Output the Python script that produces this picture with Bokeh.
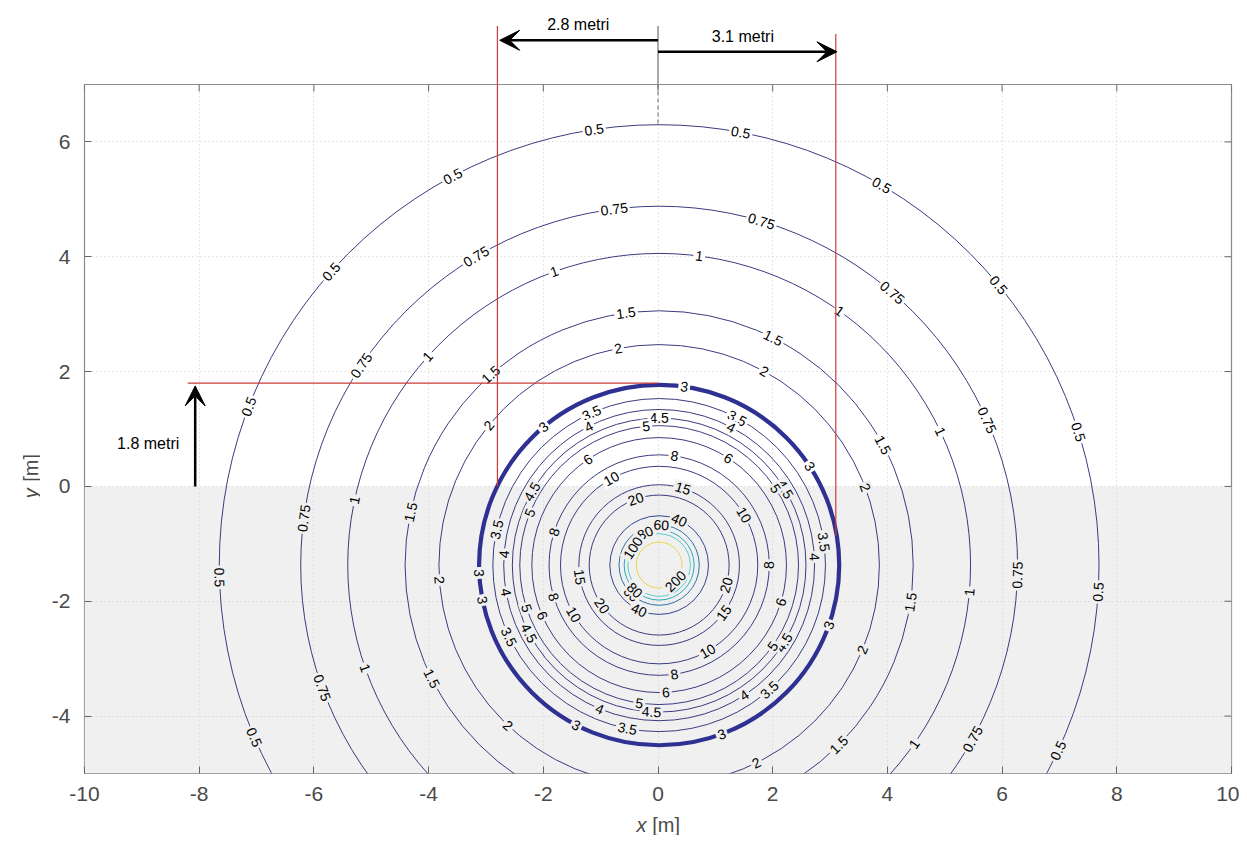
import math
from bokeh.plotting import figure
from bokeh.models import ColumnDataSource, Label, Arrow, VeeHead, BoxAnnotation, FixedTicker, Range1d
from bokeh.layouts import column, row
from bokeh.core.properties import value
from bokeh.embed import file_html
from bokeh.resources import INLINE

# ---------------- data ----------------
levels = [0.5, 0.75, 1, 1.5, 2, 3, 3.5, 4, 4.5, 5, 6, 8, 10, 15, 20, 40, 60, 80, 100, 200]
level_text = ["0.5", "0.75", "1", "1.5", "2", "3", "3.5", "4", "4.5", "5", "6", "8",
              "10", "15", "20", "40", "60", "80", "100", "200"]
radii = [7.67, 6.25, 5.43, 4.43, 3.84, 3.14, 2.90, 2.71, 2.56, 2.43, 2.22, 1.92,
         1.72, 1.40, 1.22, 0.86, 0.70, 0.61, 0.545, 0.40]
center_x = [0.02] * 20
center_y = [-1.37] * 20

xticks = [-10, -8, -6, -4, -2, 0, 2, 4, 6, 8, 10]
yticks = [-4, -2, 0, 2, 4, 6]

left_dist = 2.8     # metri
right_dist = 3.1    # metri
height_dist = 1.8   # metri

# ---------------- styles / label placement ----------------
colors = ["#3a3b80"] * 15 + ["#35448f", "#2f72a8", "#2aa7bd", "#5ccaca", "#e8d64e"]
widths = [1.0] * 20
widths[5] = 4.2
colors[5] = "#2e3192"

label_angles = [
    [98.5, 79.3, 118, 59.6, 138.2, 39.5, 158.9, 17.6, 181.6, -3.5, 203, -24.9],
    [97.2, 73.4, 120.7, 49.4, 146.2, 23.8, 172.5, -1.6, 200, -29],
    [82.6, 109.7, 54.6, 138, 25.4, 168, -5, 199.3, -35],
    [97.5, 63.3, 131.5, 28.2, 168, -8.4, 206.5, -45],
    [100.7, 61.5, 140.7, 20.6, 183.9, -22.6, 226.7, -63.8],
    [82, 130, 33.2, 182.5, 191.2, -19.5, 242.6, -69.7],
    [114, 62, 167.7, 8, 205.5, 259, -48.5],
    [117, 62.3, 176, 3, 190, 247.5, -56.8],
    [90, 150, 31, 207.6, 267, -31.8],
    [95.3, 158, 33.3, 198, 261.8, -35.5],
    [124, 57, 203.4, -87, -16.9],
    [82, 162.5, 0, 196.8, -82],
    [119, 30.5, 210, -60.6],
    [72.7, 188.5, -36.4],
    [109.5, 215.5, -16.6],
    [66, 246],
    [87, 226],
    [113.6, 226],
    [147],
    [-45],
]

GROUND = "#f0f0f0"
FONT = "Liberation Sans"
RED = "#cc3a3a"
TICK = "#666666"
AXC = "#4a4a4a"

W = 1239
BL, BR = 84, 8
LW = 40                 # left strip (y title)
TOP_H = 84              # strip above the axes
FRAME_H = 689
BB = 40
MAIN_H = FRAME_H + BB
BOT_H = 835 - TOP_H - MAIN_H
PX_PER_Y = FRAME_H / 12.0
PX_PER_X = (W - BL - BR) / 20.0


def strip(**kw):
    f = figure(title=None, output_backend="svg", toolbar_location=None,
               x_axis_type=None, y_axis_type=None, **kw)
    f.outline_line_color = None
    f.xgrid.visible = False
    f.ygrid.visible = False
    f.background_fill_color = "white"
    f.border_fill_color = "white"
    return f


# ---------------- main figure ----------------
p = figure(width=W - LW, height=MAIN_H, x_range=(-10, 10), y_range=(-5, 7), title=None,
           output_backend="svg", toolbar_location=None,
           min_border_left=BL - LW, min_border_right=BR, min_border_top=0, min_border_bottom=BB)
p.background_fill_color = "white"
p.border_fill_color = "white"
p.outline_line_color = "#8a8a8a"
p.outline_line_width = 1.2

p.add_layout(BoxAnnotation(top=0, fill_color=GROUND, fill_alpha=1.0, line_color=None, level="image"))

for ax, ticks in ((p.xaxis[0], xticks), (p.yaxis[0], yticks)):
    ax.ticker = FixedTicker(ticks=ticks)
    ax.major_label_overrides = {t: str(t) for t in ticks}
    ax.major_tick_in = 7
    ax.major_tick_out = 0
    ax.minor_tick_line_color = None
    ax.axis_line_color = None
    ax.major_tick_line_color = TICK
    ax.major_label_text_font = FONT
    ax.major_label_text_font_size = "21px"
    ax.major_label_text_color = AXC
p.xaxis[0].major_label_standoff = 13
p.yaxis[0].major_label_standoff = 14

p.xgrid.ticker = FixedTicker(ticks=xticks)
p.ygrid.ticker = FixedTicker(ticks=yticks)
for g in (p.xgrid, p.ygrid):
    g.grid_line_color = "#cfcfcf"
    g.grid_line_dash = "1 3"
    g.grid_line_width = 1

# inward ticks on top and right edges of the box
tl = 7.0
p.segment(x0=xticks, y0=[7] * len(xticks), x1=xticks, y1=[7 - tl / PX_PER_Y] * len(xticks),
          line_color=TICK, line_width=1)
p.segment(x0=[10] * len(yticks), y0=yticks, x1=[10 - tl / PX_PER_X] * len(yticks), y1=yticks,
          line_color=TICK, line_width=1)

# contours
csrc = ColumnDataSource(dict(
    x=center_x, y=center_y,
    w=[2 * r for r in radii], h=[2 * r for r in radii],
    color=colors, lw=widths))
p.ellipse(x="x", y="y", width="w", height="h", source=csrc, fill_color=None,
          line_color="color", line_width="lw")

# contour labels
lx, ly, lt, la, lbg = [], [], [], [], []
for i, angs in enumerate(label_angles):
    for a in angs:
        t = math.radians(a)
        x = center_x[i] + radii[i] * math.cos(t)
        y = center_y[i] + radii[i] * math.sin(t)
        rot = a - 90
        while rot > 90:
            rot -= 180
        while rot <= -90:
            rot += 180
        lx.append(x)
        ly.append(y)
        lt.append(level_text[i])
        la.append(math.radians(rot))
        lbg.append("white" if y > 0 else GROUND)
lsrc = ColumnDataSource(dict(x=lx, y=ly, text=lt, angle=la, bg=lbg))
p.text(x="x", y="y", text="text", angle="angle", source=lsrc,
       text_font=value(FONT), text_font_size="14px", text_color="black",
       text_align="center", text_baseline="middle",
       background_fill_color="bg", padding=2)

# dimension lines inside the axes
p.segment(x0=[-left_dist, right_dist, -8.2], y0=[7, 7, height_dist],
          x1=[-left_dist, right_dist, 0], y1=[0, -0.86, height_dist],
          line_color=RED, line_width=1.2)
p.segment(x0=[0], y0=[7], x1=[0], y1=[6.3], line_color="#666666", line_width=1, line_dash="4 3")

head = dict(size=20, fill_color="black", line_color="black")
p.add_layout(Arrow(x_start=-8.07, y_start=0, x_end=-8.07, y_end=height_dist - 0.05,
                   end=VeeHead(**head), line_color="black", line_width=2.5))
p.add_layout(Label(x=-8.89, y=0.75, text=f"{height_dist} metri", text_font=FONT,
                   text_font_size="16px", text_color="black",
                   text_align="center", text_baseline="middle"))

# ---------------- strip above the axes (dimension arrows) ----------------
top = strip(width=W, height=TOP_H, x_range=p.x_range, y_range=Range1d(7, 7 + TOP_H / PX_PER_Y),
            min_border_left=BL, min_border_right=BR, min_border_top=0, min_border_bottom=0)
top.segment(x0=[-left_dist, right_dist], y0=[8.02, 7.88], x1=[-left_dist, right_dist], y1=[6.9, 6.9],
            line_color=RED, line_width=1.2)
top.segment(x0=[0], y0=[8.02], x1=[0], y1=[6.9], line_color="#555555", line_width=1)
top.add_layout(Arrow(x_start=0, y_start=7.77, x_end=-left_dist + 0.04, y_end=7.77,
                     end=VeeHead(**head), line_color="black", line_width=2.5))
top.add_layout(Arrow(x_start=0, y_start=7.57, x_end=right_dist + 0.02, y_end=7.57,
                     end=VeeHead(**head), line_color="black", line_width=2.5))
txt = dict(text_font=FONT, text_font_size="16px", text_color="black",
           text_align="center", text_baseline="middle")
top.add_layout(Label(x=-1.39, y=8.05, text=f"{left_dist} metri", **txt))
top.add_layout(Label(x=1.48, y=7.84, text=f"{right_dist} metri", **txt))

# ---------------- strip left of the axes (y title) ----------------
left = strip(width=LW, height=MAIN_H, x_range=Range1d(0, LW), y_range=p.y_range,
             min_border_left=0, min_border_right=0, min_border_top=0, min_border_bottom=BB)
tt = dict(text_font=FONT, text_font_size="20px", text_color=AXC, text_baseline="middle")
left.add_layout(Label(x=30, y=-0.03, text="y", text_align="right", angle=math.pi / 2,
                      text_font_style="italic", **tt))
left.add_layout(Label(x=30, y=0.08, text="[m]", text_align="left", angle=math.pi / 2, **tt))

# ---------------- strip below the axes (x title) ----------------
bot = strip(width=W, height=BOT_H, x_range=p.x_range, y_range=Range1d(0, BOT_H),
            min_border_left=BL, min_border_right=BR, min_border_top=0, min_border_bottom=0)
bot.add_layout(Label(x=-0.2, y=BOT_H - 11, text="x", text_align="right",
                     text_font_style="italic", **tt))
bot.add_layout(Label(x=-0.1, y=BOT_H - 11, text="[m]", text_align="left", **tt))

layout = column(top, row(left, p, spacing=0), bot, spacing=0)
open("out.html", "w").write(file_html(layout, INLINE))
